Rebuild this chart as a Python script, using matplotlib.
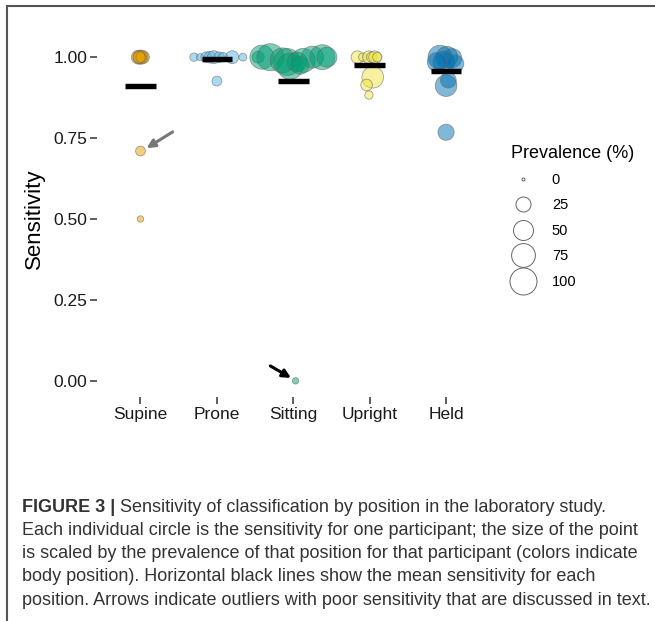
import numpy as np
import matplotlib
matplotlib.use("Agg")
import matplotlib.pyplot as plt
from matplotlib.lines import Line2D
from matplotlib.colors import to_rgba

plt.rcParams['font.family'] = ['Liberation Sans', 'DejaVu Sans']

positions = ["Supine", "Prone", "Sitting", "Upright", "Held"]
pos_colors = ["#E69F00", "#56B4E9", "#009E73", "#F0E442", "#0072B2"]

# sensitivity, prevalence (%) and horizontal jitter per participant
supine_sens = [1.0, 1.0, 1.0, 1.0, 1.0, 1.0, 1.0, 0.71, 0.50]
supine_prev = [20, 16, 22, 13, 18, 10, 15, 8, 2]
supine_jit = [-0.03, 0.02, 0.0, -0.01, 0.03, 0.01, -0.02, 0.0, 0.0]

prone_sens = [1.0, 1.0, 1.0, 1.0, 1.0, 1.0, 1.0, 1.0, 1.0, 0.926]
prone_prev = [5, 3, 10, 13, 17, 10, 7, 17, 4, 8]
prone_jit = [-0.30, -0.22, -0.14, -0.09, -0.04, 0.03, 0.08, 0.20, 0.34, 0.0]

sitting_sens = [1.0, 1.0, 1.0, 0.99, 0.985, 0.972, 0.985, 0.99, 1.0, 1.0, 1.0, 0.975, 0.0]
sitting_prev = [14, 77, 100, 84, 100, 92, 50, 77, 63, 84, 50, 39, 2]
sitting_jit = [-0.46, -0.41, -0.30, -0.14, -0.08, -0.04, 0.05, 0.13, 0.25, 0.38, 0.44, 0.09, 0.03]

upright_sens = [1.0, 1.0, 1.0, 1.0, 1.0, 1.0, 0.938, 0.914, 0.883]
upright_prev = [16, 5, 16, 10, 16, 7, 60, 13, 5]
upright_jit = [-0.16, -0.09, -0.01, 0.03, 0.07, 0.10, 0.04, -0.04, -0.01]

held_sens = [1.0, 1.0, 0.997, 0.985, 0.98, 0.985, 0.912, 0.929, 0.768]
held_prev = [75, 60, 45, 60, 35, 45, 60, 28, 30]
held_jit = [-0.08, 0.01, 0.08, -0.03, 0.12, -0.12, 0.0, 0.03, 0.0]

# mean sensitivity per position (black bars)
mean_sens = [0.91, 0.993, 0.926, 0.975, 0.957]

legend_prev = [0, 25, 50, 75, 100]

all_sens = [supine_sens, prone_sens, sitting_sens, upright_sens, held_sens]
all_prev = [supine_prev, prone_prev, sitting_prev, upright_prev, held_prev]
all_jit = [supine_jit, prone_jit, sitting_jit, upright_jit, held_jit]


def diam_pt(p):
    # circle diameter (points) scaled by sqrt of prevalence
    return (3 + 24 * np.sqrt(np.asarray(p, dtype=float) / 100.0)) * 0.72


fig = plt.figure(figsize=(6.55, 6.21), dpi=100)
ax = fig.add_axes([0.148, 0.3607, 0.603, 0.5733])

edge = (0.4, 0.4, 0.4, 0.6)
for i, (s, p, j) in enumerate(zip(all_sens, all_prev, all_jit)):
    x = i + np.asarray(j)
    ax.scatter(x, s, s=diam_pt(p) ** 2, facecolor=to_rgba(pos_colors[i], 0.5),
               edgecolor=edge, linewidth=0.6, zorder=2)

ax.hlines(mean_sens, np.arange(5) - 0.2, np.arange(5) + 0.2,
          color="black", linewidth=3.9, zorder=3)

ax.annotate("", xy=(0.08, 0.719), xytext=(0.42, 0.769),
            arrowprops=dict(arrowstyle="-|>", color="#777777", lw=2.2,
                            mutation_scale=12, shrinkA=0, shrinkB=0))
ax.annotate("", xy=(1.97, 0.009), xytext=(1.70, 0.046),
            arrowprops=dict(arrowstyle="-|>", color="black", lw=2.2,
                            mutation_scale=12, shrinkA=0, shrinkB=0))

ax.set_xlim(-0.57, 4.6)
ax.set_ylim(-0.05, 1.05)
ax.set_xticks(range(5))
ax.set_xticklabels(positions)
ax.set_yticks([0, 0.25, 0.5, 0.75, 1.0])
ax.set_yticklabels(["0.00", "0.25", "0.50", "0.75", "1.00"])
for sp in ax.spines.values():
    sp.set_visible(False)
ax.tick_params(axis="both", length=5, width=1.1, color="#333333",
               labelsize=12.5, labelcolor="#1a1a1a", pad=2)
ax.set_ylabel("Sensitivity", fontsize=16, color="black", labelpad=6)

handles = [Line2D([], [], marker="o", linestyle="", markersize=d,
                  markerfacecolor="white", markeredgecolor="#666666",
                  markeredgewidth=0.7) for d in diam_pt(legend_prev)]
leg = fig.legend(handles, [str(v) for v in legend_prev], title="Prevalence (%)",
                 loc="upper left", bbox_to_anchor=(511 / 655, 1 - 145 / 621),
                 frameon=False, fontsize=10.5, title_fontsize=13,
                 labelspacing=0.78, handletextpad=1.2, handlelength=1.6,
                 borderpad=0, borderaxespad=0)
leg._legend_box.align = "left"
leg._legend_box.sep = 8

# outer frame (top and left rules)
fig.add_artist(Line2D([7 / 655, 7 / 655], [0, 1 - 6 / 621], color="#555555", lw=1.5))
fig.add_artist(Line2D([7 / 655, 1], [1 - 6 / 621, 1 - 6 / 621], color="#555555", lw=1.5))

caption = [
    "Sensitivity of classification by position in the laboratory study.",
    "Each individual circle is the sensitivity for one participant; the size of the point",
    "is scaled by the prevalence of that position for that participant (colors indicate",
    "body position). Horizontal black lines show the mean sensitivity for each",
    "position. Arrows indicate outliers with poor sensitivity that are discussed in text.",
]
cap_fs = 12.95
y0 = 1 - 507 / 621
pitch = 23.3 / 621
head = fig.text(22 / 655, y0, "FIGURE 3 |", fontsize=cap_fs, fontweight="bold",
                color="#333333", va="center")
ax.annotate(" " + caption[0], xy=(1, 0.5), xycoords=head, va="center",
            fontsize=cap_fs, color="#333333", annotation_clip=False)
for k, line in enumerate(caption[1:], start=1):
    fig.text(22 / 655, y0 - k * pitch, line, fontsize=cap_fs, color="#333333",
             va="center")

fig.savefig("out.png", dpi=100)
